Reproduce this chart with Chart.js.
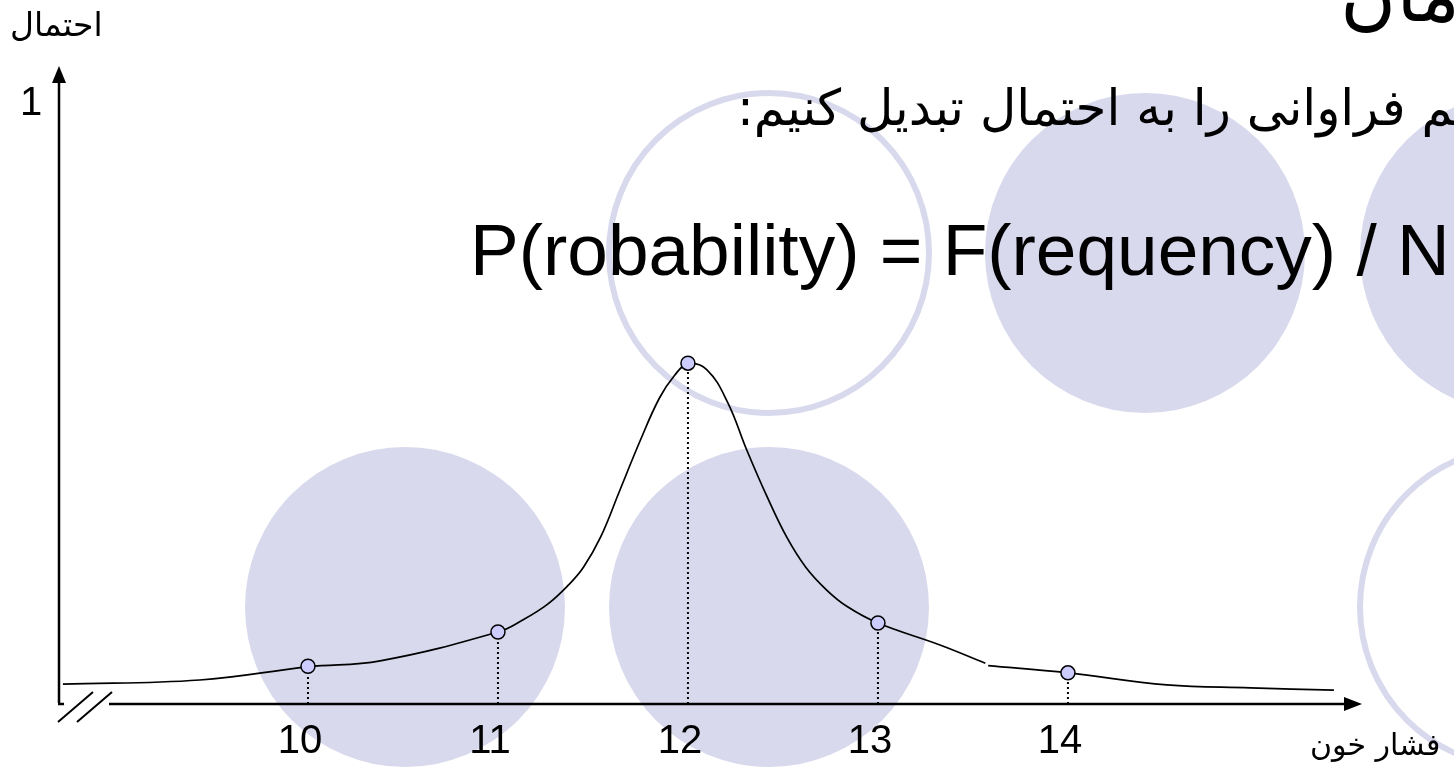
<!DOCTYPE html>
<html lang="fa">
<head>
<meta charset="utf-8">
<title>احتمال</title>
<script src="https://cdn.jsdelivr.net/npm/chart.js@4.4.1/dist/chart.umd.min.js"></script>
<style>
  html, body { margin: 0; padding: 0; background: #fff; }
  #slide { position: relative; width: 1454px; height: 781px; overflow: hidden; }
  .disc { position: absolute; border-radius: 50%; box-sizing: border-box; }
  .filled { background: #d9d9ee; }
  .ring { border: 6px solid #d9d9ee; }
  #chart { position: absolute; left: 0; top: 0; }
  .txt { position: absolute; white-space: nowrap; color: #000; }
  .fa { font-family: "DejaVu Sans", sans-serif; direction: rtl; }
</style>
</head>
<body>
<div id="slide">
  <!-- background decoration of the slide -->
  <div class="disc filled" style="left:245px;top:447px;width:320px;height:320px"></div>
  <div class="disc filled" style="left:609px;top:447px;width:320px;height:320px"></div>
  <div class="disc ring"   style="left:606px;top:90px;width:326px;height:326px"></div>
  <div class="disc filled" style="left:985px;top:93px;width:320px;height:320px"></div>
  <div class="disc filled" style="left:1360px;top:93px;width:320px;height:320px"></div>
  <div class="disc ring"   style="left:1357px;top:444px;width:326px;height:326px"></div>

  <canvas id="chart" width="1454" height="781"></canvas>

  <div class="txt fa" style="right:-6px;top:-50px;font-size:76px">مان</div>
  <div class="txt fa" style="left:737px;top:79px;font-size:50px">می‌توانیم فراوانی را به احتمال تبدیل کنیم:</div>
  <div class="txt" style="left:470px;top:208px;font-family:'Liberation Sans',Arial,sans-serif;font-size:73px">P(robability) = F(requency) / N</div>
  <div class="txt fa" style="left:10px;top:5px;font-size:33px">احتمال</div>
  <div class="txt fa" style="left:1310px;top:727px;font-size:30px">فشار خون</div>
</div>

<script>
// blood pressure categories and their probabilities
const xTicks = [10, 11, 12, 13, 14];
const pointValues = [0.063, 0.12, 0.568, 0.135, 0.052];
const yTicks = [1];

// smooth distribution curve (null = the small break in the line)
const curveX = [8.71, 9.43, 10.0, 10.38, 11.0, 11.13, 11.26, 11.37, 11.45, 11.54, 11.64, 11.75, 11.85, 11.93,
                12.0, 12.1, 12.21, 12.31, 12.42, 12.52, 12.62, 12.73, 12.84, 13.0, 13.33, 13.565, 13.57,
                13.58, 14.0, 14.52, 14.96, 15.4];
const curveY = [0.033, 0.040, 0.062, 0.072, 0.12, 0.14, 0.166, 0.198, 0.228, 0.278, 0.355, 0.44, 0.51, 0.548,
                0.567, 0.557, 0.502, 0.423, 0.343, 0.278, 0.228, 0.19, 0.162, 0.135, 0.098, 0.068, null,
                0.064, 0.052, 0.032, 0.027, 0.023];

const dropLines = xTicks.map((x, i) => ({
  data: [{ x: x, y: 0 }, { x: x, y: pointValues[i] }],
  showLine: true,
  borderColor: '#000',
  borderWidth: 2,
  borderDash: [2, 3],
  pointRadius: 0,
  order: 2
}));

// axes with arrows, the axis break and the tick labels
const axesPlugin = {
  id: 'slideAxes',
  beforeDatasetsDraw(chart) {
    const { ctx, scales: { x, y } } = chart;
    const y0 = y.getPixelForValue(0);
    const left = 59;
    const topTip = 66;
    const rightTip = 1362;
    ctx.save();
    ctx.strokeStyle = '#000';
    ctx.fillStyle = '#000';
    ctx.lineWidth = 2.5;

    ctx.beginPath();
    ctx.moveTo(left, y0 - 1);
    ctx.lineTo(left, topTip + 12);
    ctx.moveTo(left - 1, y0);
    ctx.lineTo(64, y0);
    ctx.moveTo(109, y0);
    ctx.lineTo(rightTip - 14, y0);
    ctx.stroke();

    // break marks
    ctx.lineWidth = 2;
    ctx.beginPath();
    ctx.moveTo(58, 722); ctx.lineTo(93, 692);
    ctx.moveTo(77, 722); ctx.lineTo(112, 692);
    ctx.stroke();

    // arrow heads
    ctx.beginPath();
    ctx.moveTo(left, topTip);
    ctx.lineTo(left - 7, topTip + 17);
    ctx.lineTo(left + 7, topTip + 17);
    ctx.closePath();
    ctx.fill();
    ctx.beginPath();
    ctx.moveTo(rightTip, y0);
    ctx.lineTo(rightTip - 18, y0 - 7);
    ctx.lineTo(rightTip - 18, y0 + 7);
    ctx.closePath();
    ctx.fill();

    ctx.font = '40px "Liberation Sans", Arial, sans-serif';
    ctx.textAlign = 'center';
    ctx.textBaseline = 'middle';
    xTicks.forEach(v => ctx.fillText(String(v), x.getPixelForValue(v) - 8, 742));
    yTicks.forEach(v => ctx.fillText(String(v), 31, y.getPixelForValue(v)));
    ctx.restore();
  }
};

new Chart(document.getElementById('chart'), {
  type: 'scatter',
  data: {
    datasets: [
      {
        label: 'points',
        data: xTicks.map((x, i) => ({ x: x, y: pointValues[i] })),
        pointRadius: 7,
        pointBackgroundColor: '#ccccff',
        pointBorderColor: '#000',
        pointBorderWidth: 1.5,
        order: 0
      },
      {
        label: 'curve',
        data: curveX.map((x, i) => ({ x: x, y: curveY[i] })),
        showLine: true,
        spanGaps: false,
        tension: 0.4,
        borderColor: '#000',
        borderWidth: 1.7,
        pointRadius: 0,
        order: 1
      },
      ...dropLines
    ]
  },
  options: {
    responsive: false,
    animation: false,
    events: [],
    layout: { padding: 0, autoPadding: false },
    plugins: {
      legend: { display: false },
      tooltip: { enabled: false }
    },
    scales: {
      x: { type: 'linear', display: false, min: 8.379, max: 16.032 },
      y: { type: 'linear', display: false, min: -0.1283, max: 1.1733 }
    }
  },
  plugins: [axesPlugin]
});
</script>
</body>
</html>
